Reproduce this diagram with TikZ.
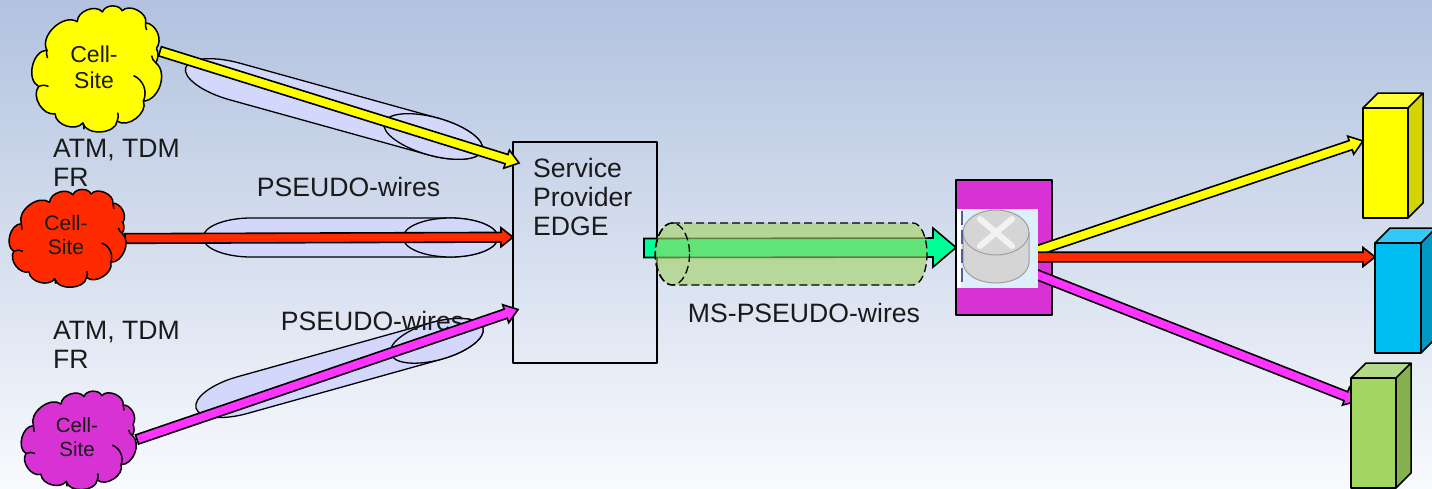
\documentclass[tikz,border=0pt]{standalone}
\usepackage{fontspec}
\setmainfont{Liberation Sans}
\usetikzlibrary{calc}
\definecolor{ink}{HTML}{1A1A1A}
\definecolor{bgtop}{RGB}{178,194,223}
\definecolor{bgbot}{RGB}{248,250,253}
\definecolor{pipefill}{HTML}{D3D7FB}
\definecolor{cyel}{HTML}{FFFF00}
\definecolor{cyeltop}{HTML}{FFFF33}
\definecolor{cyelside}{HTML}{D4D400}
\definecolor{cred}{HTML}{FF2A00}
\definecolor{cmag}{HTML}{D932D4}
\definecolor{camag}{HTML}{FF33FF}
\definecolor{cgrn}{HTML}{00FF99}
\definecolor{tube}{RGB}{160,210,97}
\definecolor{cblue}{HTML}{00BEF2}
\definecolor{cbluetop}{HTML}{33C8F5}
\definecolor{cblueside}{HTML}{0098C2}
\definecolor{boxgrn}{HTML}{A2D561}
\definecolor{boxgrntop}{HTML}{B5D98A}
\definecolor{boxgrnside}{HTML}{86B050}
\definecolor{routerbg}{HTML}{DCEFFA}
\tikzset{
  x=1pt,y=-1pt,
  lbl/.style={font=\fontsize{26.6}{29}\selectfont,text=ink,align=left,inner sep=0pt},
  celltxt/.style={align=center,text=ink,inner sep=0pt,draw=none},
  pipe/.style={draw=black,line width=1.3pt,fill=pipefill},
  cloudline/.style={draw=black,line width=1.5pt,line join=round},
  block/.style={draw=black,line width=1.6pt,line join=miter},
  boxedge/.style={draw=black,line width=1.5pt,line join=round},
  dashline/.style={draw=black,line width=1.3pt,dash pattern=on 8pt off 4pt},
}
% capsule: cx cy angle halfL halfW endR
\newcommand{\capsule}[6]{%
  \draw[pipe,shift={(#1,#2)},rotate=#3]
    ({-(#4)},0) .. controls ({-(#4)},{-.55*(#5)}) and ({-(#4)+.45*(#6)},{-(#5)}) .. ({-(#4)+(#6)},{-(#5)})
    -- ({(#4)-(#6)},{-(#5)}) .. controls ({(#4)-.45*(#6)},{-(#5)}) and ({(#4)},{-.55*(#5)}) .. ({(#4)},0)
    .. controls ({(#4)},{.55*(#5)}) and ({(#4)-.45*(#6)},{(#5)}) .. ({(#4)-(#6)},{(#5)})
    -- ({-(#4)+(#6)},{(#5)}) .. controls ({-(#4)+.45*(#6)},{(#5)}) and ({-(#4)},{.55*(#5)}) .. ({-(#4)},0) -- cycle;}
% block arrow: from, to, half shaft, half head, head length, colour
\newcommand{\blockarrow}[6]{%
  \coordinate (hb) at ($(#2)!#5pt!(#1)$);
  \draw[block,fill=#6]
    ($(#1)!#3pt!90:(#2)$) -- ($(hb)!#3pt!-90:(#1)$) -- ($(hb)!#4pt!-90:(#1)$) -- (#2)
    -- ($(hb)!#4pt!90:(#1)$) -- ($(hb)!#3pt!90:(#1)$) -- ($(#1)!#3pt!-90:(#2)$) -- cycle;}
% cloud: x0 y0 sx sy colour (drawn in 3x coordinates of the first cloud)
\newcommand{\cloudshape}[5]{%
  \begin{scope}[shift={(#1,#2)},x=#3pt,y=-#4pt]
    \draw[cloudline,fill=#5]
      (135,150) to[bend left=75] (228,72) to[bend left=70] (305,45) to[bend left=70] (365,42)
      to[bend left=75] (437,75) to[bend left=60] (470,145) to[bend left=25] (468,185)
      to[bend left=70] (430,290) to[bend left=75] (350,345) to[bend left=80] (245,350)
      to[bend left=70] (160,325) to[bend left=70] (110,250) to[bend left=75] (135,150) -- cycle;
    \draw[cloudline] (400,220) to[bend left=45] (430,290);
    \draw[cloudline] (350,345) to[bend right=15] (352,322);
    \draw[cloudline] (245,350) to[bend left=15] (248,368);
    \draw[cloudline] (110,250) to[bend left=25] (140,250);
    \draw[cloudline] (135,150) to[bend right=15] (137,172);
    \draw[cloudline] (437,75) to[bend right=15] (440,95);
    \draw[cloudline] (468,185) to[bend left=20] (455,165);
  \end{scope}}
% 3D box: name x y w h depth front top side
\newcommand{\threebox}[9]{%
  \fill[#8] (#2,#3) -- ({#2+#6},{#3-#6}) -- ({#2+#4+#6},{#3-#6}) -- ({#2+#4},#3) -- cycle;
  \fill[#9] ({#2+#4},#3) -- ({#2+#4+#6},{#3-#6}) -- ({#2+#4+#6},{#3+#5-#6}) -- ({#2+#4},{#3+#5}) -- cycle;
  \node[boxedge,fill=#7,anchor=north west,minimum width=#4pt,minimum height=#5pt,inner sep=0pt,outer sep=0pt] (#1) at (#2,#3) {};
  \draw[boxedge] (#1.north west) -- ++(#6,-#6) -- ++(#4,0) -- ++(0,#5) -- (#1.south east) (#1.north east) -- ++(#6,-#6);}
\begin{document}
\begin{tikzpicture}
\useasboundingbox (0,0) rectangle (1432,488);
\clip (0,0) rectangle (1432,488);
\shade[top color=bgtop,bottom color=bgbot] (0,0) rectangle (1432,488);

% placeholders for the clouds and boxes
\node[minimum width=127pt,minimum height=125pt,inner sep=0pt,outer sep=0pt] (cy) at (96.5,69.5) {};
\node[minimum width=116pt,minimum height=97pt,inner sep=0pt,outer sep=0pt] (cr) at (67,238.5) {};
\node[minimum width=116pt,minimum height=95pt,inner sep=0pt,outer sep=0pt] (cm) at (79,439.5) {};
\node[boxedge,minimum width=144pt,minimum height=221pt,inner sep=0pt,outer sep=0pt] (edge) at (585,252.5) {};
\node[anchor=north west,lbl] (svc) at (533,158) {Service\\Provider\\EDGE};

% pseudo-wire pipes
\capsule{334}{109}{-15.5}{154}{19}{51}
\draw[pipe,shift={(433.3,136.5)},rotate=-15.5] (0,0) ellipse [x radius=51,y radius=19];
\capsule{350.5}{237.5}{0}{147.5}{19.5}{48}
\draw[pipe] (450.5,237.5) ellipse [x radius=47.5,y radius=19.5];
\capsule{339.5}{368}{15.6}{149}{19}{48}
\draw[pipe,shift={(436.8,340.8)},rotate=15.6] (0,0) ellipse [x radius=48,y radius=19];

% labels
\node[lbl,anchor=west] (t1) at (53,162.5) {ATM, TDM\\FR};
\node[lbl,anchor=west] (t2) at (53,345) {ATM, TDM\\FR};
\node[lbl] (p1) at (348.5,187) {PSEUDO-wires};
\node[lbl] (p2) at (372.5,321) {PSEUDO-wires};
\node[lbl] (p3) at (804,312.5) {MS-PSEUDO-wires};

% router box
\node[boxedge,fill=cmag,minimum width=96pt,minimum height=135pt,inner sep=0pt,outer sep=0pt] (mb) at (1004,247.5) {};

% access arrows
\coordinate (yin) at ($(edge.north west)+(6,21)$);
\coordinate (min) at ($(edge.west)+(5,57)$);
\blockarrow{cy.16}{yin}{4.8}{9.5}{13}{cyel}
\blockarrow{cr.east}{edge.168.6}{4.8}{9.5}{12}{cred}
\blockarrow{cm.east}{min}{4.8}{9.5}{13}{camag}

% clouds over arrow starts
\cloudshape{2.7}{-4.5}{0.3272}{0.364}{cyel}
\cloudshape{-19.5}{182.5}{0.303}{0.275}{cred}
\cloudshape{-6.6}{384}{0.297}{0.278}{cmag}
\node[celltxt,font=\fontsize{23}{26}\selectfont] (ty) at (94,67) {Cell-\\Site};
\node[celltxt,font=\fontsize{21}{24}\selectfont] (tr) at (66,235) {Cell-\\Site};
\node[celltxt,font=\fontsize{20.5}{24}\selectfont] (tm) at (77,437) {Cell-\\Site};

% green arrow and tube
\coordinate (gs) at (644,248);
\blockarrow{gs}{mb.west}{9.5}{19.5}{23}{cgrn}
\path[fill=tube,fill opacity=.6]
  (672,223) -- (913,223) .. controls (921,223) and (927,237) .. (927,254)
  .. controls (927,271) and (921,285) .. (913,285) -- (672,285)
  .. controls (663,285) and (655,271) .. (655,254) .. controls (655,237) and (663,223) .. (672,223) -- cycle;
\draw[dashline]
  (672,223) -- (913,223) .. controls (921,223) and (927,237) .. (927,254)
  .. controls (927,271) and (921,285) .. (913,285) -- (672,285)
  .. controls (663,285) and (655,271) .. (655,254) .. controls (655,237) and (663,223) .. (672,223) -- cycle;
\draw[dashline] (672.5,254) ellipse [x radius=17,y radius=31];

% output arrows run out from the router picture, under it at the start
\coordinate (ya) at (1030,253);
\coordinate (ra) at (1030,257);
\coordinate (ma) at (1030,272);
\coordinate (ytip) at (1363,141);
\coordinate (rtip) at (1375,257);
\coordinate (mtip) at (1358,401);
\blockarrow{ya}{ytip}{4.8}{9.5}{13}{cyel}
\blockarrow{ma}{mtip}{4.8}{9.5}{13}{camag}
\blockarrow{ra}{rtip}{4.8}{9.5}{12}{cred}

% router picture
\fill[white] (956.5,209) rectangle (1038,288);
\fill[routerbg] (961,209) rectangle (1038,288);
\draw[draw=gray!75,line width=1pt,fill=gray!33] (963,232) -- (963,262) .. controls (963,274) and (978,283) .. (996,283)
   .. controls (1014,283) and (1029,274) .. (1029,262) -- (1029,232);
\draw[draw=gray!75,line width=1pt,fill=gray!33] (996,232.5) ellipse [x radius=33,y radius=22.5];
\draw[white,opacity=.7,line width=6pt,line cap=round] (980,219) -- (1012,246) (1012,219) -- (980,246);
\draw[draw=gray!70!blue,line width=1.5pt,dash pattern=on 14pt off 5pt] (962,211) -- (962,286);

% output boxes
\threebox{by}{1363}{108}{45}{110}{15}{cyel}{cyeltop}{cyelside}
\threebox{bb}{1375}{243}{46}{110}{15}{cblue}{cbluetop}{cblueside}
\threebox{bg}{1351}{378}{45}{110}{15}{boxgrn}{boxgrntop}{boxgrnside}
\end{tikzpicture}
\end{document}
